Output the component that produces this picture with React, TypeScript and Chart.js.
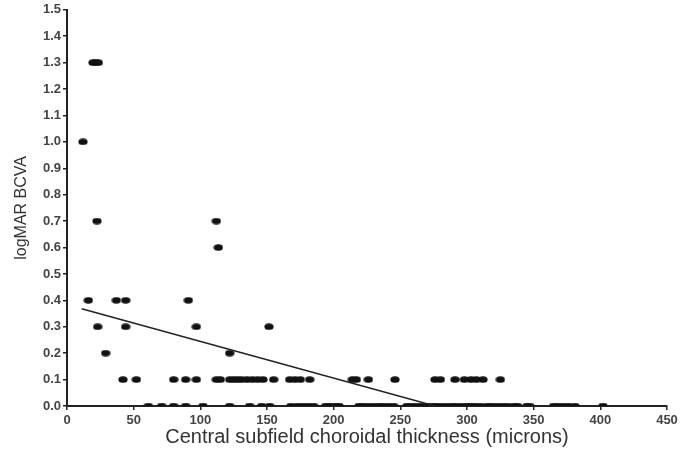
import React, { useEffect, useRef } from "react";
import { Chart, registerables } from "chart.js";

Chart.register(...registerables);

// logMAR BCVA levels and the choroidal thickness (microns) of the eyes at each level
const bcvaLevels = [1.3, 1.0, 0.7, 0.6, 0.4, 0.3, 0.2, 0.1, 0.0];
const thicknessAt13 = [19.5, 21.5, 23.5];
const thicknessAt10 = [12];
const thicknessAt07 = [22.5, 112];
const thicknessAt06 = [113.5];
const thicknessAt04 = [16, 37, 44, 91];
const thicknessAt03 = [23, 44, 97, 151.5];
const thicknessAt02 = [29, 122];
const thicknessAt01 = [
  42, 52, 80, 89, 97, 112, 115, 122, 125, 128, 131, 135, 139, 143, 147, 155,
  167, 171, 175, 182, 214, 217, 226, 246, 276, 280, 291, 298, 303, 307, 312, 325,
];
const thicknessAt00 = [
  61, 71, 80, 89, 102, 122, 137, 146, 152, 168, 173, 177, 181, 185, 194, 197,
  201, 204, 219, 222, 226, 230, 234, 237, 241, 245, 255, 258, 262, 266, 270,
  274, 277, 281, 285, 289, 292, 296, 300, 303, 306, 310, 315, 318, 322, 326,
  330, 335, 338, 345, 347, 365, 368, 372, 376, 381, 402,
];
const thicknessByLevel = [
  thicknessAt13, thicknessAt10, thicknessAt07, thicknessAt06, thicknessAt04,
  thicknessAt03, thicknessAt02, thicknessAt01, thicknessAt00,
];

// regression line end points
const fitThickness = [11, 276];
const fitBcva = [0.368, 0.0];

const xTicks = [0, 50, 100, 150, 200, 250, 300, 350, 400, 450];

function makeDot(): HTMLCanvasElement {
  const c = document.createElement("canvas");
  c.width = 10;
  c.height = 7;
  const ctx = c.getContext("2d")!;
  ctx.fillStyle = "#111";
  ctx.beginPath();
  ctx.ellipse(5, 3.5, 4.6, 3.3, 0, 0, Math.PI * 2);
  ctx.fill();
  return c;
}

export default function App() {
  const ref = useRef<HTMLCanvasElement>(null);

  useEffect(() => {
    if (!ref.current) return;
    const points: { x: number; y: number }[] = [];
    bcvaLevels.forEach((lvl, i) => {
      thicknessByLevel[i].forEach((t) => points.push({ x: t, y: lvl }));
    });
    const fit = fitThickness.map((t, i) => ({ x: t, y: fitBcva[i] }));
    const dot = makeDot();
    const tickFont = { family: "'Liberation Sans', Arial, sans-serif", size: 13, weight: "bold" as const };

    const chart = new Chart(ref.current, {
      type: "scatter",
      data: {
        datasets: [
          {
            type: "line",
            data: fit,
            borderColor: "#222",
            borderWidth: 1.5,
            pointRadius: 0,
            showLine: true,
            fill: false,
          },
          {
            type: "scatter",
            data: points,
            pointStyle: dot,
            pointRadius: 4,
            backgroundColor: "#111",
          },
        ],
      },
      options: {
        animation: false,
        responsive: false,
        events: [],
        layout: { padding: { top: 6, right: 18, left: 0, bottom: 0 } },
        plugins: { legend: { display: false }, tooltip: { enabled: false } },
        scales: {
          x: {
            type: "linear",
            min: 0,
            max: 450,
            afterBuildTicks: (s: any) => {
              s.ticks = xTicks.map((v) => ({ value: v }));
            },
            afterFit: (s: any) => {
              s.height = 47;
            },
            border: { color: "#222", width: 2 },
            grid: { drawOnChartArea: false, drawTicks: true, tickLength: 4, color: "#222", lineWidth: 1.5 },
            ticks: { color: "#444", font: tickFont, padding: 3, maxRotation: 0, autoSkip: false },
            title: {
              display: true,
              text: "Central subfield choroidal thickness (microns)",
              color: "#333",
              font: { family: "'Liberation Sans', Arial, sans-serif", size: 20 },
              padding: { top: 0, bottom: 4 },
            },
          },
          y: {
            type: "linear",
            min: 0,
            max: 1.5,
            afterFit: (s: any) => {
              s.width = 67;
            },
            border: { color: "#222", width: 2 },
            grid: { drawOnChartArea: false, drawTicks: true, tickLength: 4, color: "#222", lineWidth: 1.5 },
            ticks: {
              stepSize: 0.1,
              color: "#444",
              font: tickFont,
              padding: 2,
              autoSkip: false,
              callback: (v: any) => Number(v).toFixed(1),
            },
            title: {
              display: true,
              text: "logMAR BCVA",
              color: "#333",
              font: { family: "'Liberation Sans', Arial, sans-serif", size: 16 },
              padding: { top: 12, bottom: 0 },
            },
          },
        },
      },
    });
    return () => chart.destroy();
  }, []);

  return (
    <div style={{ position: "fixed", left: 0, top: 0, width: 685, height: 453, background: "#fff" }}>
      <canvas ref={ref} width={685} height={453} style={{ display: "block" }} />
    </div>
  );
}
